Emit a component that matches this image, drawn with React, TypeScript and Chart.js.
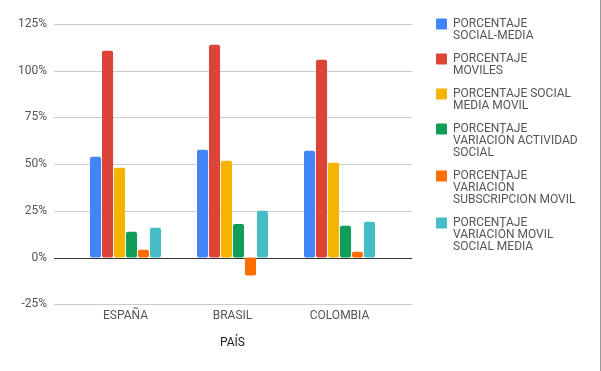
import React, { useEffect, useRef } from "react";
import { Chart, registerables } from "chart.js";

Chart.register(...registerables);

const categories = ["ESPAÑA", "BRASIL", "COLOMBIA"];
const socialMedia = [53.9, 57.7, 57.2];
const moviles = [110.7, 113.9, 105.9];
const socialMediaMovil = [48.0, 51.8, 50.7];
const variacionActividad = [13.8, 18.0, 17.0];
const variacionSubscripcion = [4.1, -9.6, 3.1];
const variacionMovilSocial = [15.9, 25.0, 19.1];

const seriesLabels = [
  ["PORCENTAJE", "SOCIAL-MEDIA"],
  ["PORCENTAJE", "MOVILES"],
  ["PORCENTAJE SOCIAL", "MEDIA MOVIL"],
  ["PORCENTAJE", "VARIACIÓN ACTIVIDAD", "SOCIAL"],
  ["PORCENTAJE", "VARIACIÓN", "SUBSCRIPCION MOVIL"],
  ["PORCENTAJE", "VARIACIÓN MOVIL", "SOCIAL MEDIA"],
];
const seriesColors = ["#4285F4", "#DB4437", "#F4B400", "#0F9D58", "#FF6D01", "#46BDC6"];
const yMin = -25;
const yMax = 125;
const yStep = 25;

const FONT = "Roboto, 'Noto Sans', Arial, sans-serif";
const LEGEND_WIDTH = 172;

const gridPlugin = {
  id: "extGrid",
  beforeLayout(chart: any) {
    const legend = chart.legend;
    if (legend && !legend.__patched) {
      const orig = legend.fit.bind(legend);
      legend.fit = function () {
        orig();
        this.width = LEGEND_WIDTH;
      };
      legend.__patched = true;
    }
  },
  beforeDatasetsDraw(chart: any) {
    const { ctx, chartArea } = chart;
    const y = chart.scales.y;
    const x0 = chartArea.left - 18;
    const x1 = chartArea.right + 19;
    ctx.save();
    y.ticks.forEach((t: any) => {
      const py = Math.round(y.getPixelForValue(t.value)) + 0.5;
      ctx.strokeStyle = t.value === 0 ? "#333333" : "#cccccc";
      ctx.lineWidth = 1;
      ctx.beginPath();
      ctx.moveTo(x0, py);
      ctx.lineTo(x1, py);
      ctx.stroke();
    });
    ctx.restore();
  },
  afterDraw(chart: any) {
    const { ctx } = chart;
    ctx.save();
    ctx.fillStyle = "#9a9a9a";
    ctx.fillRect(chart.width - 1, 0, 1, chart.height);
    ctx.restore();
  },
};

export default function App() {
  const ref = useRef<HTMLCanvasElement | null>(null);
  useEffect(() => {
    if (!ref.current) return;
    const values = [
      socialMedia,
      moviles,
      socialMediaMovil,
      variacionActividad,
      variacionSubscripcion,
      variacionMovilSocial,
    ];
    const chart = new Chart(ref.current, {
      type: "bar",
      data: {
        labels: categories,
        datasets: values.map((v, i) => ({
          label: seriesLabels[i] as any,
          data: v,
          backgroundColor: seriesColors[i],
          borderRadius: 2,
          borderSkipped: false,
          categoryPercentage: 0.672,
          barPercentage: 0.925,
        })),
      },
      options: {
        animation: false,
        responsive: true,
        maintainAspectRatio: false,
        layout: { padding: { top: 7, right: 4, bottom: 16, left: 0 } },
        plugins: {
          tooltip: { enabled: false },
          legend: {
            position: "right",
            align: "start",
            labels: {
              boxWidth: 11,
              boxHeight: 11,
              padding: 11,
              color: "#555555",
              font: { family: FONT, size: 12, lineHeight: 1 },
              useBorderRadius: true,
              borderRadius: 1,
            },
          },
        },
        scales: {
          x: {
            offset: true,
            grid: { display: false, drawTicks: false },
            border: { display: false },
            ticks: { color: "#555555", font: { family: FONT, size: 12 }, padding: 5 },
            title: {
              display: true,
              text: "PAÍS",
              color: "#222222",
              font: { family: FONT, size: 12 },
              padding: { top: 7, bottom: 5 },
            },
          },
          y: {
            min: yMin,
            max: yMax,
            ticks: {
              stepSize: yStep,
              color: "#555555",
              font: { family: FONT, size: 12 },
              padding: 25,
              callback: (v: any) => `${v}%`,
            },
            grid: { display: false, drawTicks: false },
            border: { display: false },
            afterFit: (s: any) => {
              s.width = 72;
              s.paddingTop = 24;
              s.paddingBottom = 8;
            },
          },
          yRight: {
            position: "right",
            display: true,
            grid: { display: false, drawTicks: false },
            border: { display: false },
            ticks: { display: false },
            afterFit: (s: any) => {
              s.width = 32;
            },
          },
        },
      } as any,
      plugins: [gridPlugin],
    });
    return () => chart.destroy();
  }, []);
  return (
    <div style={{ position: "absolute", left: 0, top: 0, width: 601, height: 371, background: "#fff" }}>
      <canvas ref={ref} />
    </div>
  );
}
